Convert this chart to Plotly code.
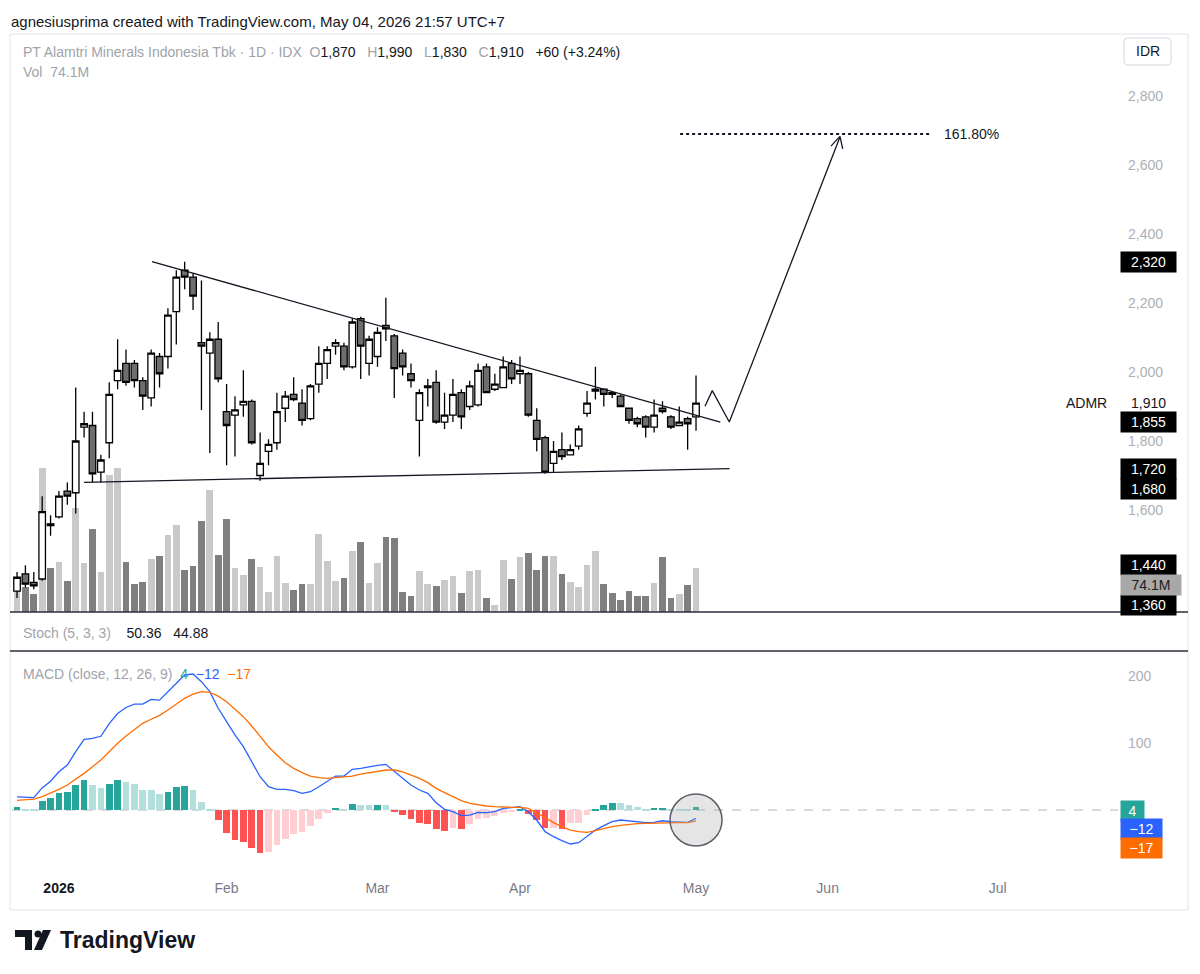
import plotly.graph_objects as go

W, H = 1200, 974
def px(x): return x / W
def py(y): return 1 - y / H

FONT = "Liberation Sans, Arial, Helvetica, sans-serif"
INK = "#131722"
GRAY = "#a0a3ab"
AXIS_GRAY = "#acafb7"

# ---------------- data ----------------
opens = [1365, 1415, 1390, 1400, 1560, 1580, 1655, 1650, 1840, 1845,
         1710, 1795, 1975, 2025, 2025, 1975, 1925, 2045, 2045, 2175,
         2295, 2275, 2085, 2055, 2095, 1885, 1875, 1905, 1915, 1700,
         1770, 1795, 1895, 1935, 1910, 1865, 1965, 2025, 2075, 2075,
         2015, 2155, 2025, 2045, 2135, 2105, 2055, 1995, 1860, 1955,
         1970, 1855, 1875, 1940, 1900, 1905, 2015, 1950, 1955, 2025,
         1995, 1995, 1860, 1810, 1735, 1775, 1760, 1785, 1880, 1945,
         1950, 1940, 1930, 1895, 1865, 1870, 1840, 1895, 1870, 1845,
         1865, 1870]
highs = [1420, 1440, 1420, 1640, 1585, 1655, 1680, 1955, 1885, 1885,
         1760, 1970, 2095, 2065, 2035, 1985, 2065, 2055, 2185, 2295,
         2320, 2285, 2265, 2115, 2145, 1965, 1930, 2005, 1920, 1825,
         1805, 1940, 1945, 1985, 1950, 1965, 2075, 2075, 2095, 2085,
         2155, 2160, 2105, 2130, 2215, 2110, 2065, 2025, 1950, 1980,
         2005, 1940, 1980, 1950, 1975, 2025, 2025, 1995, 2045, 2035,
         2045, 2000, 1895, 1815, 1800, 1825, 1790, 1845, 1945, 2015,
         1950, 1945, 1935, 1895, 1870, 1875, 1920, 1915, 1875, 1900,
         1870, 1990]
lows = [1345, 1375, 1370, 1395, 1525, 1575, 1615, 1590, 1810, 1680,
        1680, 1750, 1950, 1960, 1955, 1890, 1900, 1955, 2010, 2080,
        2240, 2180, 1890, 1765, 1970, 1730, 1755, 1870, 1790, 1685,
        1730, 1775, 1855, 1915, 1845, 1860, 1940, 1980, 2050, 2005,
        2010, 1980, 1990, 2015, 2090, 1925, 1990, 1955, 1755, 1900,
        1850, 1835, 1855, 1835, 1890, 1900, 1940, 1945, 1955, 1965,
        1965, 1870, 1770, 1705, 1710, 1745, 1760, 1775, 1870, 1920,
        1900, 1925, 1900, 1850, 1840, 1810, 1825, 1880, 1835, 1845,
        1775, 1830]
closes = [1405, 1385, 1380, 1595, 1555, 1640, 1640, 1800, 1850, 1705,
          1745, 1935, 2005, 1970, 1975, 1930, 2055, 1995, 2165, 2275,
          2275, 2220, 2075, 2095, 1980, 1845, 1890, 1915, 1795, 1735,
          1790, 1885, 1930, 1920, 1860, 1960, 2025, 2065, 2085, 2015,
          2145, 2075, 2095, 2115, 2125, 2010, 2015, 1975, 1940, 1960,
          1855, 1875, 1935, 1870, 1960, 2005, 1940, 1965, 2015, 1980,
          2005, 1875, 1805, 1710, 1770, 1755, 1775, 1835, 1910, 1950,
          1935, 1935, 1900, 1860, 1850, 1840, 1875, 1885, 1840, 1855,
          1850, 1910]
volumes_m = [49, 42, 31, 242, 74, 84, 52, 175, 82, 139,
             68, 231, 243, 84, 48, 51, 90, 94, 130, 146,
             70, 78, 154, 205, 96, 157, 74, 62, 89, 76,
             34, 94, 49, 37, 48, 47, 131, 86, 52, 58,
             103, 118, 49, 82, 126, 125, 34, 27, 69, 47,
             44, 54, 61, 32, 69, 71, 23, 12, 88, 55,
             92, 99, 71, 94, 95, 64, 51, 42, 79, 102,
             48, 32, 21, 36, 27, 27, 49, 92, 24, 30,
             46, 74.1]
macd_line = [19.5, 19, 18.4, 33, 43, 57, 67, 87, 105.5, 107,
             110, 129, 144, 153, 158, 158, 165, 164, 176.6, 189,
             201.5, 203, 191.5, 176.6, 151.8, 131.8, 112, 94.5, 72, 49.7,
             34.8, 30.8, 30.8, 28.8, 24.9, 27.3, 34.8, 43.3, 50.7, 50.7,
             60.7, 62, 64.5, 66.5, 68.2, 57, 47.3, 37.3, 29.9, 24.9,
             10.9, 1, -2.5, -8.5, -7.5, -3.5, -4, -2.5, 2.5, 3.5,
             5, -2.5, -14.9, -32.3, -39.8, -45.8, -50.7, -48.8, -39.8, -29.9,
             -23.4, -17.4, -14.9, -16, -17.4, -18.9, -18.4, -16, -17.4, -17.4,
             -18.4, -12.4]
signal_line = [14.5, 15.3, 16.4, 19.9, 24.9, 30.8, 37.3, 45.8, 54.7, 64.7,
               74.6, 87, 99.5, 110.4, 120.4, 129.4, 135.4, 141.3, 149.3, 158.2,
               166.7, 173, 176.6, 175.7, 170, 161.6, 150.7, 139.3, 125.4, 109.4,
               94.5, 82, 70.6, 62.2, 55.7, 50.7, 48.2, 47.3, 48.2, 48.8,
               50.7, 53.5, 55.7, 58.2, 59.7, 59.7, 57, 52.2, 47.3, 40.8,
               32.3, 25.9, 19.9, 13.9, 10, 7.5, 6, 5, 4, 4,
               4, 2.5, -4, -11.4, -18.9, -24.9, -29.9, -32.3, -33.3, -30.8,
               -27.4, -24.9, -22.9, -21.4, -20.4, -19.9, -19.4, -18.9, -18.9, -18.9,
               -18.9, -16.6]
histogram = [4.5, 1, 0.5, 13.4, 17.4, 24.9, 27.4, 37.3, 44.8, 37.3,
             32.3, 38.3, 44.8, 42.3, 38.3, 29.9, 29.9, 23.4, 27.4, 34.3,
             35.3, 29.4, 12.4, 0.8, -15.4, -34.8, -44.8, -47.8, -56.2, -63.7,
             -62.7, -52.7, -43.8, -35.3, -32.8, -23.9, -13.9, -4, 3.5, 1.5,
             9.5, 8, 7.5, 8.2, 7.8, -2, -7, -13, -19, -21.5,
             -29, -31.3, -27.4, -27.8, -21.4, -13, -11.4, -9, -4, -2.5,
             0.5, -6.5, -15, -26.4, -26.4, -29, -19.9, -19, -7.5, 2,
             7, 10, 9.8, 7, 4, 1.5, 3, 3.5, 1.5, 1,
             0.5, 4.2]

bar_index = list(range(len(closes)))

# time axis (bar index of first session of each month; future months projected)
month_pos = [5, 25, 43, 60, 81, 96.7, 117]
month_labels = ["<span style='color:#131722'><b>2026</b></span>", "Feb", "Mar", "Apr", "May", "Jun", "Jul"]
price_ticks = [1600, 1800, 2000, 2200, 2400, 2600, 2800]
macd_ticks = [100, 200]

# drawings
resistance_x = [16.1, 83.9]
resistance_y = [2320, 1855]
support_x = [8.0, 85.0]
support_y = [1680, 1720]
projection_x = [82.07, 82.94, 84.97, 98.17]
projection_y = [1901, 1946, 1855, 2681]
arrow_x = [97.1, 98.17, 98.5]
arrow_y = [2655, 2683, 2647]
fib_x = [79.1, 108.9]
fib_level = 2690
fib_label = "161.80%"

price_tags = [(2320, "2,320", 0), (1855, "1,855", 0), (1720, "1,720", 0),
              (1680, "1,680", -7), (1440, "1,440", 0), (1360, "1,360", -12)]

# ---------------- figure ----------------
fig = go.Figure()

vol_colors = ["#c9c9c9" if c >= o else "#7f7f7f" for o, c in zip(opens, closes)]
fig.add_trace(go.Bar(x=bar_index, y=volumes_m, marker=dict(color=vol_colors, line=dict(width=0)),
                     width=0.8, xaxis="x", yaxis="y", hoverinfo="skip", showlegend=False))

fig.add_trace(go.Candlestick(
    x=bar_index, open=opens, high=highs, low=lows, close=closes,
    xaxis="x", yaxis="y2", whiskerwidth=0, showlegend=False,
    increasing=dict(line=dict(color="#000000", width=1.3), fillcolor="#ffffff"),
    decreasing=dict(line=dict(color="#000000", width=1.3), fillcolor="#6e6e6e")))

line_style = dict(color=INK, width=1.3)
for xs, ys in [(resistance_x, resistance_y), (support_x, support_y),
               (projection_x, projection_y), (arrow_x, arrow_y)]:
    fig.add_trace(go.Scatter(x=xs, y=ys, mode="lines", line=line_style,
                             xaxis="x", yaxis="y2", hoverinfo="skip", showlegend=False))
fig.add_trace(go.Scatter(x=fib_x, y=[fib_level, fib_level], mode="lines",
                         line=dict(color=INK, width=2, dash="dot"),
                         xaxis="x", yaxis="y2", hoverinfo="skip", showlegend=False))

hist_colors = []
prev = 0
for h in histogram:
    if h >= 0:
        hist_colors.append("#26a69a" if h > prev else "#b2dfdb")
    else:
        hist_colors.append("#ff5252" if h < prev else "#ffcdd2")
    prev = h
fig.add_trace(go.Bar(x=bar_index, y=histogram, marker=dict(color=hist_colors, line=dict(width=0)),
                     width=0.8, xaxis="x2", yaxis="y3", hoverinfo="skip", showlegend=False))
fig.add_trace(go.Scatter(x=bar_index, y=macd_line, mode="lines", line=dict(color="#2962ff", width=1.3),
                         xaxis="x2", yaxis="y3", hoverinfo="skip", showlegend=False))
fig.add_trace(go.Scatter(x=bar_index, y=signal_line, mode="lines", line=dict(color="#ff6d00", width=1.3),
                         xaxis="x2", yaxis="y3", hoverinfo="skip", showlegend=False))

XR = [-0.6, 131.34]
XD = [px(12), px(1118)]
fig.update_layout(
    width=W, height=H, margin=dict(l=0, r=0, t=0, b=0),
    paper_bgcolor="white", plot_bgcolor="white",
    font=dict(family=FONT, color=INK),
    showlegend=False, bargap=0, boxgap=0.22, boxgroupgap=0,
    xaxis=dict(domain=XD, range=XR, anchor="y", showticklabels=False, showgrid=False,
               zeroline=False, showline=False, ticks="", rangeslider=dict(visible=False), fixedrange=True),
    yaxis=dict(domain=[py(612), py(36)], range=[0, 970], visible=False, fixedrange=True),
    yaxis2=dict(overlaying="y", side="right", anchor="x", range=[1304.3, 2974.1],
                tickvals=price_ticks, tickformat=",d", showgrid=False, zeroline=False,
                showline=False, ticks="", ticklabelstandoff=9,
                tickfont=dict(size=14, color=AXIS_GRAY, family=FONT)),
    xaxis2=dict(domain=XD, range=XR, anchor="y3", tickvals=month_pos, ticktext=month_labels,
                showgrid=False, zeroline=False, showline=False, ticks="", ticklabelstandoff=6,
                tickfont=dict(size=14, color="#787b86", family=FONT)),
    yaxis3=dict(domain=[py(872), py(651)], range=[-92.5, 237.3], anchor="x2", side="right",
                tickvals=macd_ticks, showgrid=False, zeroline=False, showline=False, ticks="",
                ticklabelstandoff=9, tickfont=dict(size=14, color=AXIS_GRAY, family=FONT)),
)

shapes = []
# chart frame
shapes.append(dict(type="rect", xref="paper", yref="paper", x0=px(10), x1=px(1188), y0=py(910), y1=py(34),
                   line=dict(color="#e0e3eb", width=1), fillcolor="rgba(0,0,0,0)", layer="below"))
# pane separators
for yy in (612, 651):
    shapes.append(dict(type="line", xref="paper", yref="paper", x0=px(10), x1=px(1188), y0=py(yy), y1=py(yy),
                       line=dict(color="#2a2e39", width=1.5)))
# macd zero line
shapes.append(dict(type="line", xref="paper", yref="y3", x0=px(12), x1=px(1118), y0=0, y1=0,
                   line=dict(color="#b2b5be", width=1, dash="dash"), layer="below"))
# highlight circle
shapes.append(dict(type="circle", xref="x2", yref="y3", x0=77.9, x1=84.1, y0=-53.7, y1=23.9,
                   line=dict(color="#5d606b", width=1.5), fillcolor="rgba(170,170,170,0.3)"))
# IDR button (rounded box)
def rounded(x0, y0, x1, y1, r):
    X = lambda v: f"{px(v):.5f}"
    Y = lambda v: f"{py(v):.5f}"
    return (f"M {X(x0 + r)},{Y(y0)} L {X(x1 - r)},{Y(y0)} Q {X(x1)},{Y(y0)} {X(x1)},{Y(y0 + r)} "
            f"L {X(x1)},{Y(y1 - r)} Q {X(x1)},{Y(y1)} {X(x1 - r)},{Y(y1)} L {X(x0 + r)},{Y(y1)} "
            f"Q {X(x0)},{Y(y1)} {X(x0)},{Y(y1 - r)} L {X(x0)},{Y(y0 + r)} Q {X(x0)},{Y(y0)} {X(x0 + r)},{Y(y0)} Z")
shapes.append(dict(type="path", xref="paper", yref="paper", path=rounded(1124, 38, 1171, 65, 4),
                   line=dict(color="#d1d4dc", width=1), fillcolor="white"))

# TradingView logo
def path(pts):
    s = "M " + " L ".join(f"{px(x):.5f},{py(y):.5f}" for x, y in pts) + " Z"
    return s
shapes.append(dict(type="path", xref="paper", yref="paper",
                   path=path([(15, 930), (32, 930), (32, 950), (25, 950), (25, 937), (15, 937)]),
                   fillcolor=INK, line=dict(width=0)))
shapes.append(dict(type="circle", xref="paper", yref="paper", x0=px(34.5), x1=px(41.5), y0=py(937.5), y1=py(930.5),
                   fillcolor=INK, line=dict(width=0)))
shapes.append(dict(type="path", xref="paper", yref="paper",
                   path=path([(34, 950), (43, 930), (51, 930), (42, 950)]),
                   fillcolor=INK, line=dict(width=0)))
fig.update_layout(shapes=shapes)

ann = []
def text(x, y, t, size=14, color=INK, anchor="left", **kw):
    d = dict(xref="paper", yref="paper", x=px(x), y=py(y), text=t, showarrow=False,
             xanchor=anchor, yanchor="middle", font=dict(size=size, color=color, family=FONT))
    d.update(kw)
    ann.append(d)

text(9, 22, "agnesiusprima created with TradingView.com, May 04, 2026 21:57 UTC+7", size=15)
chg = closes[-1] - closes[-2]
pct = chg / closes[-2] * 100
sp = "&nbsp;&nbsp;"
sp3 = "&nbsp;&nbsp;&nbsp;"
def g(s): return f"<span style='color:{GRAY}'>{s}</span>"
def k(s): return f"<span style='color:{INK}'>{s}</span>"
ohlc = (g("PT Alamtri Minerals Indonesia Tbk · 1D · IDX") + sp +
        g("O") + k(f"{opens[-1]:,}") + sp3 + g("H") + k(f"{highs[-1]:,}") + sp3 +
        g("L") + k(f"{lows[-1]:,}") + sp3 + g("C") + k(f"{closes[-1]:,}") + sp3 +
        k(f"+{chg:,} (+{pct:.2f}%)"))
text(21, 52, ohlc, size=14)
text(21, 72, g("Vol") + sp + g(f"{volumes_m[-1]}M"), size=14)
text(21, 633, g("Stoch (5, 3, 3)") + sp + sp + k("50.36") + sp + "&nbsp;" + k("44.88"), size=14)
text(21, 674, g("MACD (close, 12, 26, 9)") + sp + "<span style='color:#26a69a'>4</span>" + sp +
     "<span style='color:#2962ff'>−12</span>" + sp + "<span style='color:#ff6d00'>−17</span>", size=14)
text(1147.5, 51.5, "IDR", size=14, anchor="center")
text(58, 940, "<b>TradingView</b>", size=23)

# right-side tags
for val, lab, shift in price_tags:
    ann.append(dict(xref="paper", yref="y2", x=px(1120), y=val, yshift=shift, text=lab, showarrow=False,
                    xanchor="left", yanchor="middle", bgcolor="#000000", borderpad=2, width=51, align="center",
                    font=dict(size=14, color="white", family=FONT)))
ann.append(dict(xref="paper", yref="y", x=px(1120), y=volumes_m[-1], yshift=-17, text=f"{volumes_m[-1]}M",
                showarrow=False, xanchor="left", yanchor="middle", bgcolor="#a8a8a8", borderpad=2, width=56,
                align="center", font=dict(size=14, color="#202020", family=FONT)))
ann.append(dict(xref="paper", yref="y2", x=px(1109), y=closes[-1], text="ADMR", showarrow=False,
                xanchor="right", yanchor="middle", font=dict(size=14, color=INK, family=FONT)))
ann.append(dict(xref="paper", yref="y2", x=px(1129), y=closes[-1], text=f"{closes[-1]:,}", showarrow=False,
                xanchor="left", yanchor="middle", font=dict(size=14, color=INK, family=FONT)))
for val, lab, shift, col, wd in [(histogram[-1], "4", -4, "#26a69a", 19),
                                 (macd_line[-1], "−12", -11, "#2962ff", 37),
                                 (signal_line[-1], "−17", -27, "#ff6d00", 37)]:
    ann.append(dict(xref="paper", yref="y3", x=px(1120), y=val, yshift=shift, text=lab, showarrow=False,
                    xanchor="left", yanchor="middle", bgcolor=col, borderpad=2, width=wd, align="center",
                    font=dict(size=14, color="white", family=FONT)))
ann.append(dict(xref="x", yref="y2", x=110.3, y=fib_level, text=fib_label, showarrow=False,
                xanchor="left", yanchor="middle", font=dict(size=14, color=INK, family=FONT)))
fig.update_layout(annotations=ann)

fig.write_html("out.html", config={"displayModeBar": False},
               post_script="document.body.style.margin='0';document.body.style.overflow='hidden';")
